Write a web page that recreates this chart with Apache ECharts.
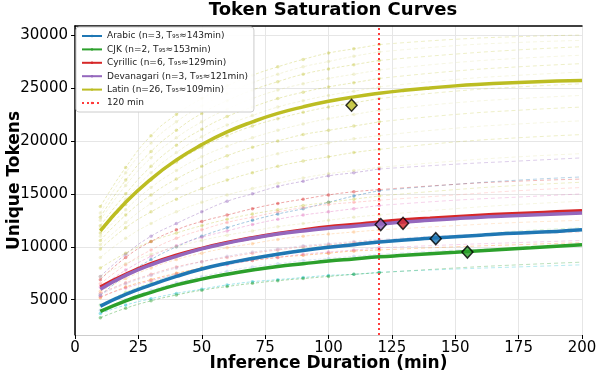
<!DOCTYPE html>
<html>
<head>
<meta charset="utf-8">
<script src="https://cdn.jsdelivr.net/npm/echarts@6/dist/echarts.min.js"></script>
<style>
  html, body { margin: 0; padding: 0; background: #fff; }
  #main { width: 596px; height: 370px; }
</style>
</head>
<body>
<div id="main"></div>
<script>
// x positions of the sampled curves
const obsX = [10, 20, 30, 40, 50, 60, 70, 80, 90, 100, 110, 120];
const extX = [120, 150, 175, 200];
const meanX = [10, 20, 30, 40, 50, 60, 70, 80, 90, 100, 110, 120, 130, 140, 150, 160, 170, 180, 190, 200];

const languages = ["Arabic", "CJK", "Cyrillic", "Devanagari", "Latin"];
const counts = [3, 2, 6, 3, 26];
const t95Label = [143, 153, 129, 121, 109];
const colors = ["#1f77b4", "#2ca02c", "#d62728", "#9467bd", "#bcbd22"];

// mean fitted curves (read at every 10 min)
const arabicMean = [4400, 5500, 6400, 7200, 7900, 8450, 8900, 9300, 9650, 9950, 10200, 10450, 10650, 10800, 10950, 11100, 11250, 11350, 11450, 11600];
const cjkMean = [3900, 4900, 5700, 6400, 6950, 7400, 7800, 8150, 8400, 8650, 8850, 9050, 9200, 9350, 9480, 9620, 9760, 9900, 10050, 10200];
const cyrillicMean = [6200, 7400, 8400, 9200, 9850, 10400, 10850, 11250, 11600, 11900, 12100, 12350, 12550, 12700, 12850, 12980, 13100, 13200, 13300, 13400];
const devanagariMean = [6000, 7300, 8300, 9100, 9800, 10350, 10800, 11200, 11500, 11750, 11950, 12150, 12350, 12500, 12650, 12800, 12900, 13000, 13100, 13200];
const latinMean = [11500, 14200, 16400, 18200, 19650, 20850, 21800, 22600, 23220, 23740, 24160, 24500, 24780, 25010, 25200, 25350, 25470, 25570, 25650, 25710];

// T95 diamond markers
const diamondX = [142.3, 154.8, 129.4, 120.6, 109.1];
const diamondY = [10770, 9500, 12220, 12100, 23370];

// individual runs: 12 observed values (10..120) | extension at 120,150,175,200
const arabicRuns = [
  [5400, 7300, 8800, 10000, 11000, 11800, 12500, 13100, 13600, 14200, 14800, 15300, 15900, 16300, 16600],
  [4000, 5000, 5900, 6600, 7200, 7700, 8100, 8400, 8700, 8900, 9100, 9300, 9700, 9900, 10100],
  [3700, 4500, 5100, 5600, 6000, 6400, 6700, 6900, 7100, 7300, 7400, 7600, 7900, 8100, 8300]
];
const cjkRuns = [
  [4500, 5700, 6600, 7400, 8000, 8500, 9000, 9400, 9800, 10100, 10300, 10500, 11000, 11500, 11800],
  [3300, 4200, 4900, 5450, 5900, 6250, 6550, 6800, 7000, 7200, 7400, 7550, 8000, 8300, 8550]
];
const cyrillicRuns = [
  [6900, 9000, 10500, 11600, 12400, 13000, 13600, 14100, 14500, 14900, 15200, 15400, 15900, 16200, 16400],
  [6500, 8300, 9700, 10800, 11600, 12300, 12800, 13300, 13700, 14000, 14200, 14400, 14900, 15300, 15600],
  [6200, 7800, 9100, 10100, 10900, 11500, 12100, 12600, 13000, 13300, 13600, 13900, 14400, 14700, 15000],
  [5800, 7000, 8000, 8800, 9400, 9900, 10300, 10700, 11000, 11200, 11400, 11600, 12000, 12300, 12500],
  [5600, 6600, 7400, 8100, 8600, 9000, 9400, 9700, 10000, 10200, 10400, 10600, 11000, 11200, 11400],
  [5200, 6200, 6900, 7500, 8000, 8400, 8700, 9000, 9200, 9400, 9600, 9700, 10000, 10200, 10400]
];
const devanagariRuns = [
  [7200, 9300, 11000, 12200, 13300, 14300, 15000, 15700, 16200, 16700, 17000, 17350, 17800, 18100, 18400],
  [5500, 6500, 7300, 8000, 8600, 9100, 9500, 9800, 10100, 10300, 10500, 10700, 11100, 11300, 11500],
  [5300, 6100, 6800, 7400, 7900, 8300, 8700, 9000, 9300, 9500, 9700, 9900, 10200, 10400, 10600]
];
const latinRuns = [
  [13800, 17500, 20500, 22500, 24000, 25200, 26200, 27000, 27700, 28300, 28700, 29100, 29600, 29850, 30000],
  [13200, 17000, 19800, 21800, 23300, 24500, 25500, 26300, 27000, 27500, 28000, 28400, 29000, 29300, 29500],
  [12800, 16300, 19000, 21000, 22600, 23800, 24800, 25600, 26300, 26800, 27200, 27600, 28200, 28600, 28900],
  [12500, 15800, 18400, 20300, 21800, 23000, 24000, 24800, 25400, 25900, 26300, 26700, 27400, 27800, 28100],
  [12000, 15000, 17600, 19600, 21100, 22300, 23200, 24000, 24600, 25100, 25500, 25900, 26600, 27000, 27300],
  [11700, 14500, 17000, 18900, 20400, 21500, 22400, 23200, 23800, 24300, 24700, 25100, 25800, 26200, 26500],
  [11300, 14000, 16300, 18000, 19400, 20500, 21400, 22100, 22700, 23200, 23600, 24000, 24700, 25100, 25400],
  [11000, 13500, 15600, 17200, 18500, 19500, 20300, 21000, 21600, 22100, 22500, 22900, 23600, 24000, 24300],
  [10600, 13000, 14900, 16400, 17600, 18600, 19400, 20000, 20600, 21000, 21400, 21800, 22500, 22900, 23200],
  [10200, 12300, 14100, 15500, 16600, 17500, 18200, 18800, 19300, 19800, 20200, 20500, 21200, 21600, 21900],
  [9800, 11800, 13300, 14500, 15500, 16300, 17000, 17600, 18100, 18500, 18900, 19200, 19900, 20300, 20600],
  [9000, 10800, 12200, 13300, 14200, 14900, 15500, 16000, 16500, 16900, 17200, 17500, 18100, 18500, 18800],
  [8000, 9400, 10500, 11300, 12000, 12600, 13100, 13500, 13900, 14200, 14500, 14800, 15400, 15800, 16100],
  [7200, 8400, 9300, 10000, 10600, 11100, 11500, 11900, 12200, 12500, 12800, 13000, 13600, 14000, 14300]
];

// light shades used for individual runs
const runShades = [
  ["#1f77b4", "#aec7e8", "#17becf"],
  ["#98df8a", "#2ca02c"],
  ["#d62728", "#ff9896", "#e377c2", "#ffbb78", "#f08080", "#ff7f0e"],
  ["#9467bd", "#c5b0d5", "#e377c2"],
  ["#bcbd22", "#dbdb8d"]
];

const yTicks = [5000, 10000, 15000, 20000, 25000, 30000];
const FONT = "DejaVu Sans";

const means = [arabicMean, cjkMean, cyrillicMean, devanagariMean, latinMean];
const runs = [arabicRuns, cjkRuns, cyrillicRuns, devanagariRuns, latinRuns];

const series = [];

// thin individual curves
runs.forEach((group, li) => {
  const op = li === 4 ? 0.35 : 0.45;
  group.forEach((r, ri) => {
    const c = runShades[li][ri % runShades[li].length];
    series.push({
      type: "line",
      name: "run-" + li + "-" + ri,
      data: obsX.map((x, i) => [x, r[i]]),
      symbol: "circle",
      symbolSize: 3.5,
      showSymbol: true,
      smooth: true,
      silent: true,
      z: 1,
      itemStyle: { color: c, opacity: op },
      lineStyle: { color: c, width: 0.9, type: [3, 2], opacity: op },
      animation: false,
    });
    series.push({
      type: "line",
      name: "ext-" + li + "-" + ri,
      data: extX.map((x, i) => [x, r[11 + i]]),
      symbol: "none",
      smooth: true,
      silent: true,
      z: 1,
      lineStyle: { color: c, width: 0.9, type: [4, 3], opacity: op * 0.8 },
      animation: false,
    });
  });
});

// mean curves
languages.forEach((lang, li) => {
  series.push({
    type: "line",
    name: lang + " (n=" + counts[li] + ", T₉₅≈" + t95Label[li] + "min)",
    data: meanX.map((x, i) => [x, means[li][i]]),
    symbol: "none",
    smooth: true,
    legendIcon: "rect",
    z: 5,
    itemStyle: { color: colors[li] },
    lineStyle: { color: colors[li], width: 3.5 },
    animation: false,
  });
});

// 120 min reference line
series.push({
  type: "line",
  name: "120 min",
  data: [],
  symbol: "none",
  legendIcon: "path://M0,0h2v2h-2zM4,0h2v2h-2zM8,0h2v2h-2zM12,0h2v2h-2zM16,0h2v2h-2z",
  itemStyle: { color: "#ff3b3b" },
  lineStyle: { color: "#ff3b3b", width: 2, type: [2, 3] },
  markLine: {
    silent: true,
    symbol: "none",
    label: { show: false },
    lineStyle: { color: "#ff3b3b", width: 2, type: [2, 3] },
    data: [{ xAxis: 120 }],
  },
  z: 6,
  animation: false,
});

// T95 diamonds
languages.forEach((lang, li) => {
  series.push({
    type: "scatter",
    name: "t95-" + lang,
    data: [[diamondX[li], diamondY[li]]],
    symbol: "diamond",
    symbolSize: [11, 12],
    z: 10,
    itemStyle: { color: colors[li], borderColor: "#000", borderWidth: 1.5 },
    animation: false,
  });
});

const legendNames = languages
  .map((lang, li) => lang + " (n=" + counts[li] + ", T₉₅≈" + t95Label[li] + "min)")
  .concat(["120 min"]);

const chart = echarts.init(document.getElementById("main"), null, { renderer: "canvas" });
chart.setOption({
  backgroundColor: "#fff",
  animation: false,
  textStyle: { fontFamily: FONT },
  title: {
    text: "Token Saturation Curves",
    left: 328,
    top: -4,
    textAlign: "center",
    textStyle: { fontFamily: FONT, fontSize: 18, fontWeight: "bold", color: "#000" },
  },
  legend: {
    data: legendNames,
    orient: "vertical",
    left: 76,
    top: 27,
    itemWidth: 20,
    itemHeight: 3,
    itemGap: 3.4,
    padding: [4, 6, 4, 5],
    backgroundColor: "rgba(255,255,255,0.9)",
    borderColor: "#cccccc",
    borderWidth: 1,
    borderRadius: 3,
    textStyle: { fontFamily: FONT, fontSize: 9, color: "#222", lineHeight: 10 },
  },
  grid: { left: 75, right: 14, top: 26, bottom: 35, containLabel: false, outerBoundsMode: "none" },
  xAxis: [
    {
      type: "value",
      min: 0,
      max: 200,
      interval: 25,
      name: "Inference Duration (min)",
      nameLocation: "middle",
      nameGap: 20,
      nameMoveOverlap: false,
      nameTextStyle: { fontFamily: FONT, fontSize: 17, fontWeight: "bold", color: "#000" },
      axisLine: { show: true, lineStyle: { color: "#cccccc", width: 1 } },
      axisTick: { show: true, length: 4, lineStyle: { color: "#000" } },
      axisLabel: { fontFamily: FONT, fontSize: 15, color: "#000", margin: 6 },
      splitLine: { show: true, lineStyle: { color: "#e6e6e6", width: 1 } },
    },
    {
      type: "value",
      position: "top",
      min: 0,
      max: 200,
      axisLine: { show: true, lineStyle: { color: "#000", width: 1.5 } },
      axisTick: { show: false },
      axisLabel: { show: false },
      splitLine: { show: false },
    },
  ],
  yAxis: [
    {
      type: "value",
      min: 1670,
      max: 30855,
      name: "Unique Tokens",
      nameLocation: "middle",
      nameGap: 52,
      nameMoveOverlap: false,
      nameTextStyle: { fontFamily: FONT, fontSize: 17, fontWeight: "bold", color: "#000" },
      axisLine: { show: true, lineStyle: { color: "#cccccc", width: 1 } },
      axisTick: { show: true, length: 4, customValues: yTicks, lineStyle: { color: "#000" } },
      axisLabel: {
        fontFamily: FONT, fontSize: 15, color: "#000", margin: 7, customValues: yTicks,
        formatter: (v) => String(v),
      },
      splitLine: { show: true, lineStyle: { color: "#e6e6e6", width: 1 } },
    },
    {
      type: "value",
      position: "right",
      min: 1670,
      max: 30855,
      axisLine: { show: true, lineStyle: { color: "#000", width: 1.5 } },
      axisTick: { show: false },
      axisLabel: { show: false },
      splitLine: { show: false },
    },
  ],
  series: series,
});
</script>
</body>
</html>
